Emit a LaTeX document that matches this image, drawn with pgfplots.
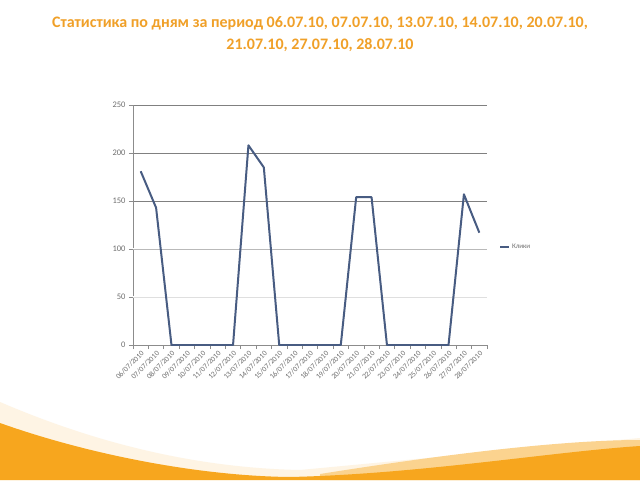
\documentclass[border=0pt]{standalone}
\usepackage{pgfplots}
\pgfplotsset{compat=1.18}
\usepackage{fontspec}
\setmainfont{Carlito}
\definecolor{ttl}{RGB}{240,160,40}
\definecolor{ln}{RGB}{72,92,130}
\definecolor{org}{RGB}{247,166,30}
\definecolor{axg}{RGB}{140,140,140}
\definecolor{lbl}{RGB}{110,110,110}
\begin{document}
\begin{tikzpicture}
\useasboundingbox (0pt,0pt) rectangle (640pt,480pt);
\fill[white] (0pt,0pt) rectangle (640pt,480pt);
\fill[org!12!white] (0pt,78pt) .. controls (100pt,35pt) and (200pt,12pt) .. (300pt,10pt) -- (640pt,42pt) -- (640pt,0pt) -- (0pt,0pt) -- cycle;
\fill[org!50!white] (320pt,6pt) .. controls (440pt,25pt) and (560pt,40pt) .. (640pt,40pt) -- (640pt,0pt) -- (320pt,0pt) -- cycle;
\fill[org] (0pt,57pt) .. controls (90pt,25pt) and (200pt,4pt) .. (290pt,3pt) .. controls (420pt,6pt) and (550pt,28pt) .. (640pt,34pt) -- (640pt,0pt) -- (0pt,0pt) -- cycle;
\node[font=\bfseries\fontsize{16}{22}\selectfont, text=ttl, align=center] at (320pt,446pt)
  {Статистика по дням за период 06.07.10, 07.07.10, 13.07.10, 14.07.10, 20.07.10,\\21.07.10, 27.07.10, 28.07.10};
\begin{axis}[name=ax, at={(133pt,135pt)}, anchor=south west, scale only axis,
  width=354pt, height=240pt,
  xmin=-0.5, xmax=22.5, ymin=0, ymax=250,
  axis lines*=left,
  axis line style={axg, line width=0.8pt},
  xtick={0,...,22},
  xticklabels={06/07/2010,07/07/2010,08/07/2010,09/07/2010,10/07/2010,11/07/2010,12/07/2010,13/07/2010,14/07/2010,15/07/2010,16/07/2010,17/07/2010,18/07/2010,19/07/2010,20/07/2010,21/07/2010,22/07/2010,23/07/2010,24/07/2010,25/07/2010,26/07/2010,27/07/2010,28/07/2010},
  major x tick style={draw=none},
  minor xtick={-0.5,0.5,...,22.5},
  minor tick length=4pt,
  major tick length=4pt,
  tick align=outside,
  tick style={axg, line width=0.6pt},
  xticklabel style={rotate=45, anchor=north east, inner sep=0pt, outer sep=1pt, font=\fontsize{7.5}{8}\selectfont, text=lbl},
  ytick={0,50,...,250},
  yticklabel style={font=\fontsize{8.5}{9}\selectfont, text=lbl},
  /pgf/number format/assume math mode=true,
  ymajorgrids,
  grid style={gray, line width=1pt},
  legend style={at={(1.025,0.41)}, anchor=west, draw=none, fill=none, font=\fontsize{7}{8}\selectfont, text=lbl},
  legend cell align=left,
  legend image code/.code={\draw[#1] (0pt,0pt) -- (9pt,0pt);},
]
\draw[white, line width=1.2pt] (axis cs:-0.5,50) -- (axis cs:22.5,50);
\draw[gray!25, line width=1pt] (axis cs:-0.5,50) -- (axis cs:22.5,50);
\draw[white, line width=1.2pt] (axis cs:-0.5,100) -- (axis cs:22.5,100);
\draw[gray!55, line width=1pt] (axis cs:-0.5,100) -- (axis cs:22.5,100);
\addplot[ln, line width=2pt, line join=round, mark=none] coordinates {
(0,181) (1,143) (2,0) (3,0) (4,0) (5,0) (6,0) (7,208) (8,185) (9,0) (10,0)
(11,0) (12,0) (13,0) (14,154) (15,154) (16,0) (17,0) (18,0) (19,0) (20,0)
(21,157) (22,117)};
\addlegendentry{Клики}
\end{axis}
\end{tikzpicture}
\end{document}
